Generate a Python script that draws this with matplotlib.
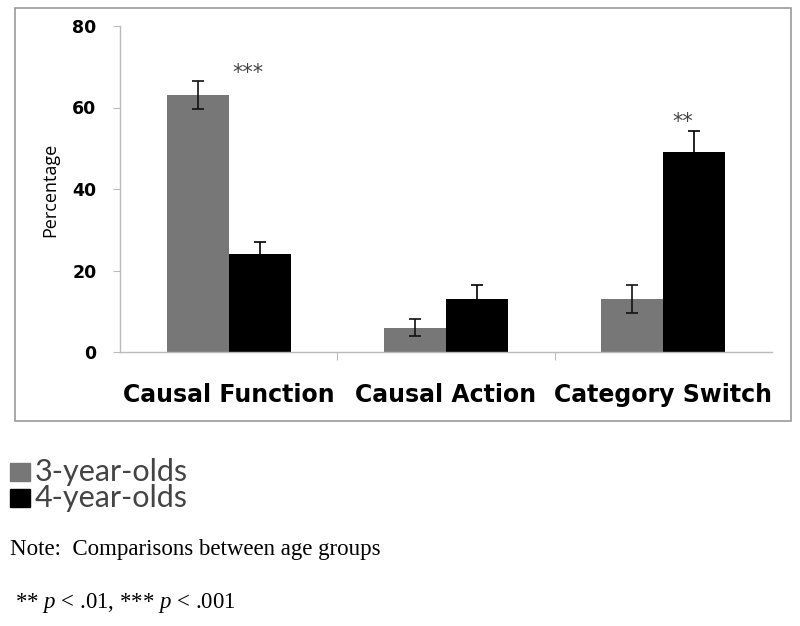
import matplotlib
matplotlib.use("Agg")
import matplotlib.pyplot as plt
import numpy as np
from matplotlib.patches import Rectangle

plt.rcParams["mathtext.fontset"] = "custom"
plt.rcParams["mathtext.it"] = "Liberation Serif:italic"
plt.rcParams["mathtext.rm"] = "Liberation Serif"

categories = ["Causal Function", "Causal Action", "Category Switch"]
series_names = ["3-year-olds", "4-year-olds"]
vals_3 = [63, 6, 13]
err_3 = [3.4, 2.0, 3.4]
vals_4 = [24, 13, 49]
err_4 = [3.0, 3.5, 5.2]
yticks = [0, 20, 40, 60, 80]
sig_labels = ["***", "", "**"]
sig_heights = [66, None, 54]

gray = "#777777"
black = "#000000"

fig = plt.figure(figsize=(8, 6.26), dpi=100)
W, H = 800, 626

# outer frame
fig.patches.append(Rectangle((15 / W, 1 - 421 / H), (791 - 15) / W, (421 - 8) / H,
                             transform=fig.transFigure, fill=False,
                             edgecolor="#999999", linewidth=1.2))

ax = fig.add_axes([120 / W, 1 - 352 / H, (772 - 120) / W, (352 - 26) / H])
x = np.arange(len(categories))
bw = 0.285
ax.bar(x - bw / 2, vals_3, bw, color=gray, yerr=err_3,
       error_kw=dict(ecolor="#111111", elinewidth=1.2, capsize=4, capthick=1.2))
ax.bar(x + bw / 2, vals_4, bw, color=black, yerr=err_4,
       error_kw=dict(ecolor="#000000", elinewidth=1.2, capsize=4, capthick=1.2))

for xi, lab, h in zip(x, sig_labels, sig_heights):
    if lab:
        ax.text(xi + 0.09, h, lab, ha="center", va="bottom", fontsize=15,
                color="#444444", family="DejaVu Sans")

ax.set_xlim(-0.5, 2.5)
ax.set_ylim(0, 80)
ax.set_yticks(yticks)
ax.set_yticklabels([str(v) for v in yticks], fontsize=12.5, fontweight="bold")
ax.set_xticks([0.5, 1.5])
ax.set_xticklabels([])
ax.tick_params(axis="x", direction="out", length=6, color="#bbbbbb")
ax.tick_params(axis="y", direction="out", length=5, color="#bbbbbb", pad=12)
for s in ["top", "right"]:
    ax.spines[s].set_visible(False)
for s in ["left", "bottom"]:
    ax.spines[s].set_color("#bbbbbb")
    ax.spines[s].set_linewidth(1.0)

for xi, c in zip(x, categories):
    ax.text(xi, -10.5, c, ha="center", va="center", fontsize=17,
            fontweight="bold", transform=ax.transData, clip_on=False)

fig.text(50 / W, 1 - 190 / H, "Percentage", rotation=90, ha="center", va="center",
         fontsize=13, family="Open Sans")

# legend outside
for i, (name, col) in enumerate(zip(series_names, [gray, black])):
    yc = 472 + i * 26
    fig.patches.append(Rectangle((10 / W, 1 - (yc + 9) / H), 20 / W, 18 / H,
                                 transform=fig.transFigure, color=col))
    fig.text(35 / W, 1 - yc / H, name, ha="left", va="center", fontsize=22,
             family="Lato", color="#444444")

fig.text(10 / W, 1 - 549 / H, "Note:  Comparisons between age groups", ha="left",
         va="center", fontsize=16.5, family="Liberation Serif")
fig.text(15 / W, 1 - 603 / H, r"** $\it{p}$ < .01, *** $\it{p}$ < .001", ha="left",
         va="center", fontsize=16.5, family="Liberation Serif")

fig.savefig("out.png", dpi=100)
